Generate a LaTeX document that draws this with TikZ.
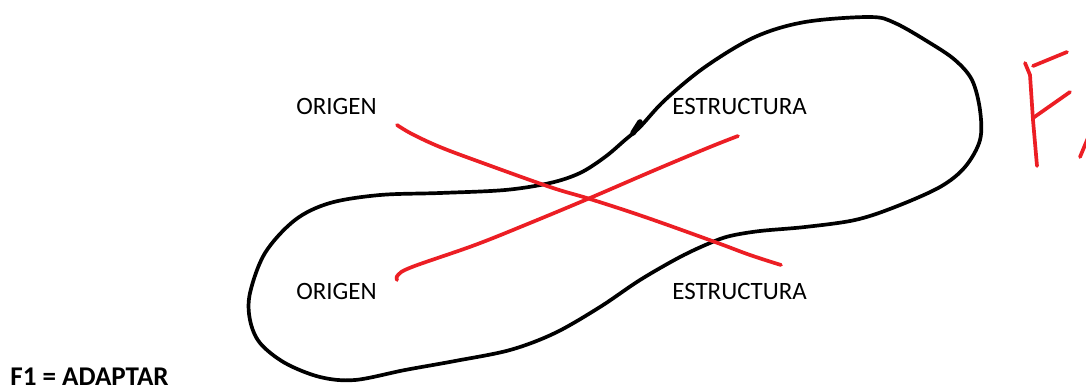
\documentclass[tikz,border=0pt]{standalone}
\usepackage{fontspec}
\setmainfont{Carlito}
\definecolor{penred}{RGB}{236,30,36}
\begin{document}
\begin{tikzpicture}[x=0.02cm,y=-0.02cm,line cap=round,line join=round,
  word node/.style={font=\fontsize{14.2}{16}\selectfont,inner sep=0pt,anchor=west},
  loop line/.style={black,line width=2.1pt},
  cross line/.style={penred,line width=2.1pt}]

  \useasboundingbox[fill=white] (0,0) rectangle (1086,392);

  % the four words
  \node[word node] (origenA) at (296,106) {ORIGEN};
  \node[word node] (estructA) at (672,106) {ESTRUCTURA};
  \node[word node] (origenB) at (296,291) {ORIGEN};
  \node[word node] (estructB) at (672,291) {ESTRUCTURA};

  \node[font=\fontsize{15.4}{17}\selectfont\bfseries,inner sep=0pt,anchor=west]
    (rule) at (10,377) {F1 = ADAPTAR};

  % closed loop round the words
  \draw[loop line] plot[smooth cycle,tension=0.55] coordinates {
    (640,127) (665,100) (705,67) (755,37) (805,22) (870,17) (895,23)
    (930,43) (955,60) (972,80) (980,110) (980,140) (965,167) (940,187)
    (895,207) (855,220) (805,227) (760,231) (730,236) (710,243) (680,257)
    (640,280) (600,307) (555,333) (510,350) (455,361) (405,370) (355,380)
    (320,377) (285,363) (260,343) (250,320) (250,293) (265,253) (295,220)
    (330,203) (380,195) (440,193) (505,190) (550,183) (580,173) (605,157)
    (625,140)};
  \draw[black,line width=3.2pt] (633,133) -- (640,122);

  % the two red strokes
  \coordinate (startA) at (397,125);
  \coordinate (endA) at (781,265);
  \coordinate (startB) at (397,280);
  \coordinate (endB) at (738,136);
  \draw[cross line] plot[smooth,tension=0.6] coordinates {
    (startA) (412,134) (440,147) (480,162) (550,187) (590,199) (645,217)
    (715,242) (750,255) (endA)};
  \draw[cross line] plot[smooth,tension=0.6] coordinates {
    (startB) (398,275) (412,267) (475,245) (530,223) (590,198) (655,170)
    (710,147) (endB)};

  % red letters on the right
  \draw[cross line] (1025,63) -- (1030,75) -- (1033,120) -- (1037,166);
  \draw[cross line] (1033,66) -- (1067,52);
  \draw[cross line] (1033,118) -- (1070,92);
  \draw[cross line] (1080,157) -- (1090,133);
\end{tikzpicture}
\end{document}
